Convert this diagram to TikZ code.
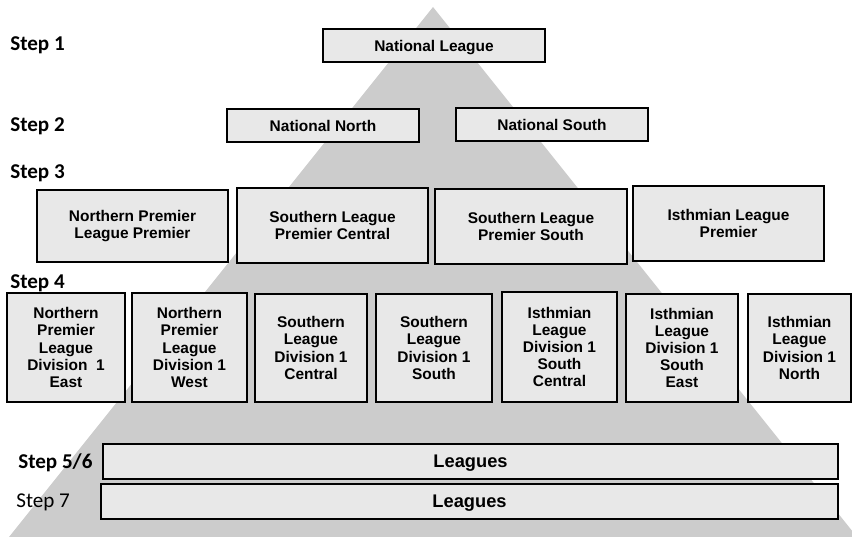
\documentclass[tikz,border=0pt]{standalone}
\usepackage{fontspec}
\setmainfont{Liberation Sans}
\newfontfamily\stepfont{Carlito}
\usepackage{tikz}
\definecolor{pyramidgray}{RGB}{204,204,204}
\definecolor{boxgray}{RGB}{232,232,232}
\tikzstyle{league} = [
  rectangle,
  inner sep=0pt,
  align=center,
  font=\bfseries\fontsize{8.8}{9.8}\selectfont,
  fill=boxgray,
  draw=black,
  line width=0.7pt
]
\tikzstyle{wide} = [league, text depth=0pt, font=\bfseries\fontsize{10.4}{12}\selectfont]
\tikzstyle{steplabel} = [anchor=west, inner sep=0pt, font=\stepfont\bfseries\fontsize{12}{14}\selectfont]

\begin{document}
\begin{tikzpicture}[x=0.02cm, y=-0.02cm]
    \useasboundingbox (0,0) rectangle (852,537);

    % Piramide de fondo
    \begin{scope}
      \clip (0,0) rectangle (852,537);
      \fill[pyramidgray] (433,7) -- (9,537) -- (857,537) -- cycle;
    \end{scope}

    % Step 1 y Step 2
    \node (nl) [league, text depth=0pt, minimum width=4.44cm, minimum height=0.66cm] at (434,45.5) {National League};
    \node (nn) [league, text depth=0pt, minimum width=3.84cm, minimum height=0.66cm] at (323,125.5) {National North};
    \node (ns) [league, text depth=0pt, minimum width=3.84cm, minimum height=0.66cm] at (552,124.5) {National South};

    % Step 3
    \node (npl) [league, minimum width=3.82cm, minimum height=1.44cm] at (132.5,226) {Northern Premier\\League Premier};
    \node (slpc) [league, minimum width=3.82cm, minimum height=1.5cm] at (332.5,225.5) {Southern League\\Premier Central};
    \node (slps) [league, minimum width=3.84cm, minimum height=1.5cm] at (531,226.5) {Southern League\\Premier South};
    \node (ilp) [league, minimum width=3.82cm, minimum height=1.5cm] at (728.5,223.5) {Isthmian League\\Premier};

    % Step 4
    \node (nple) [league, minimum width=2.36cm, minimum height=2.18cm] at (66,347.5) {Northern\\Premier\\League\\Division\ \ 1\\East};
    \node (nplw) [league, minimum width=2.30cm, minimum height=2.18cm] at (189.5,347.5) {Northern\\Premier\\League\\Division 1\\West};
    \node (slc) [league, minimum width=2.24cm, minimum height=2.16cm] at (311,348) {Southern\\League\\Division 1\\Central};
    \node (sls) [league, minimum width=2.32cm, minimum height=2.16cm] at (434,348) {Southern\\League\\Division 1\\South};
    \node (ilsc) [league, minimum width=2.30cm, minimum height=2.20cm] at (559.5,347) {Isthmian\\League\\Division 1\\South\\Central};
    \node (ilse) [league, minimum width=2.24cm, minimum height=2.16cm] at (682,348) {Isthmian\\League\\Division 1\\South\\East};
    \node (iln) [league, minimum width=2.06cm, minimum height=2.16cm] at (799.5,348) {Isthmian\\League\\Division 1\\North};

    % Step 5/6 y Step 7
    \node (lg56) [wide, minimum width=14.70cm, minimum height=0.70cm] at (470.5,461.5) {Leagues};
    \node (lg7) [wide, minimum width=14.74cm, minimum height=0.70cm] at (469.5,501.5) {Leagues};

    % Etiquetas de nivel
    \node (st1) [steplabel] at (10,45) {Step 1};
    \node (st2) [steplabel] at (10,126) {Step 2};
    \node (st3) [steplabel] at (10,173) {Step 3};
    \node (st4) [steplabel] at (10,283) {Step 4};
    \node (st56) [steplabel] at (18,463) {Step 5/6};
    \node (st7) [steplabel, font=\stepfont\fontsize{12}{14}\selectfont] at (16,502) {Step 7};

\end{tikzpicture}
\end{document}
